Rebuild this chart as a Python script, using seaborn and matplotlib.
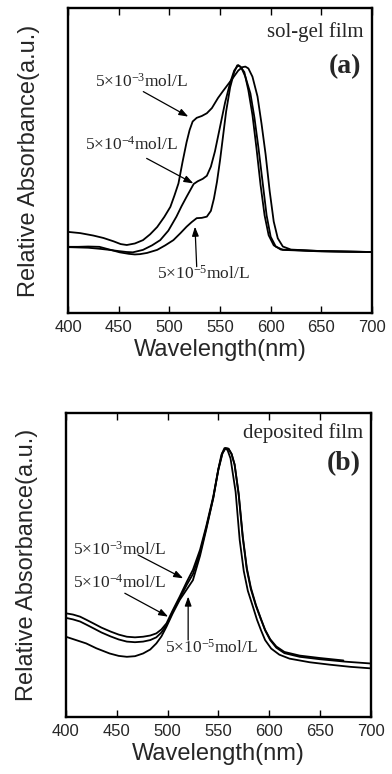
import numpy as np
import pandas as pd
import matplotlib
matplotlib.use("Agg")
import matplotlib.pyplot as plt
import seaborn as sns

# ---------------- data: panel (a) sol-gel film ----------------
a3_wl = [400, 412, 425, 435, 445, 452, 458, 466, 474, 481, 488, 495, 501, 505, 509, 513, 517, 520, 523, 527,
         532, 537, 542, 548, 553, 558, 563, 568, 572, 575, 578, 582, 587, 591, 595, 599, 603, 607, 612, 620,
         650, 700]
a3_ab = [0.266, 0.262, 0.254, 0.246, 0.235, 0.226, 0.223, 0.228, 0.239, 0.258, 0.282, 0.315, 0.348, 0.385, 0.425,
         0.495, 0.560, 0.600, 0.628, 0.640, 0.646, 0.655, 0.672, 0.705, 0.728, 0.750, 0.772, 0.795, 0.806, 0.808,
         0.802, 0.775, 0.710, 0.620, 0.520, 0.400, 0.300, 0.245, 0.218, 0.208, 0.203, 0.200]

a4_wl = [400, 410, 420, 430, 441, 450, 458, 464, 474, 483, 491, 499, 507, 512, 517, 521, 524, 528, 533, 537,
         541, 545, 550, 555, 560, 564, 568, 571, 575, 580, 584, 588, 592, 596, 600, 605, 612, 650, 700]
a4_ab = [0.216, 0.215, 0.214, 0.211, 0.207, 0.203, 0.200, 0.199, 0.207, 0.222, 0.239, 0.270, 0.316, 0.350, 0.381,
         0.405, 0.423, 0.432, 0.440, 0.450, 0.480, 0.530, 0.610, 0.690, 0.755, 0.795, 0.813, 0.805, 0.775, 0.720,
         0.640, 0.540, 0.430, 0.320, 0.250, 0.218, 0.207, 0.202, 0.200]

a5_wl = [400, 410, 420, 431, 441, 451, 460, 466, 471, 478, 488, 496, 504, 511, 517, 522, 527, 532, 537, 541,
         544, 547, 550, 553, 556, 560, 564, 567, 570, 574, 578, 582, 586, 590, 594, 598, 603, 610, 650, 700]
a5_ab = [0.217, 0.217, 0.218, 0.217, 0.208, 0.199, 0.194, 0.192, 0.193, 0.197, 0.207, 0.222, 0.239, 0.262, 0.283,
         0.298, 0.311, 0.312, 0.316, 0.335, 0.375, 0.430, 0.500, 0.580, 0.660, 0.740, 0.790, 0.812, 0.808, 0.790,
         0.730, 0.650, 0.540, 0.420, 0.320, 0.255, 0.222, 0.208, 0.203, 0.200]

# ---------------- data: panel (b) deposited film ----------------
b3_wl = [400, 407, 414, 420, 427, 435, 444, 452, 460, 468, 476, 483, 489, 494, 499, 505, 512, 519, 525, 532,
         538, 545, 550, 554, 557, 560, 563, 566, 570, 574, 578, 582, 587, 592, 596, 601, 607, 615, 630, 650, 675, 700]
b3_ab = [0.341, 0.337, 0.330, 0.320, 0.308, 0.294, 0.281, 0.271, 0.264, 0.262, 0.264, 0.268, 0.275, 0.288, 0.308,
         0.350, 0.396, 0.445, 0.484, 0.550, 0.626, 0.725, 0.815, 0.868, 0.884, 0.882, 0.865, 0.830, 0.730, 0.590,
         0.485, 0.420, 0.365, 0.320, 0.285, 0.253, 0.228, 0.210, 0.198, 0.190, 0.182, 0.176]

b4_wl = [400, 407, 414, 420, 427, 435, 444, 452, 460, 468, 476, 483, 489, 494, 499, 505, 512, 519, 525, 532,
         538, 545, 550, 554, 557, 560, 563, 566, 570, 574, 578, 582, 587, 592, 596, 601, 607, 615, 630, 650, 673]
b4_ab = [0.326, 0.321, 0.314, 0.304, 0.292, 0.278, 0.265, 0.255, 0.248, 0.246, 0.248, 0.253, 0.262, 0.278, 0.302,
         0.345, 0.390, 0.435, 0.470, 0.540, 0.620, 0.720, 0.812, 0.866, 0.884, 0.882, 0.865, 0.830, 0.735, 0.595,
         0.490, 0.425, 0.368, 0.322, 0.287, 0.256, 0.232, 0.214, 0.202, 0.194, 0.186]

b5_wl = [400, 410, 420, 430, 443, 452, 460, 468, 476, 483, 489, 494, 499, 505, 512, 519, 525, 532, 538, 545,
         550, 553, 556, 559, 562, 567, 571, 575, 579, 584, 588, 592, 596, 602, 610, 620, 640, 660, 680, 700]
b5_ab = [0.264, 0.253, 0.242, 0.226, 0.209, 0.201, 0.198, 0.200, 0.209, 0.222, 0.242, 0.265, 0.297, 0.340, 0.385,
         0.420, 0.450, 0.530, 0.615, 0.720, 0.815, 0.862, 0.884, 0.878, 0.850, 0.740, 0.582, 0.480, 0.415, 0.363,
         0.320, 0.285, 0.253, 0.225, 0.205, 0.192, 0.180, 0.172, 0.165, 0.160]

conc_labels = ["5\u00d710$^{-3}$mol/L", "5\u00d710$^{-4}$mol/L", "5\u00d710$^{-5}$mol/L"]
panel_titles = ["sol-gel film", "deposited film"]
panel_tags = ["(a)", "(b)"]
xticks = [400, 450, 500, 550, 600, 650, 700]

sns.set_style("white")
plt.rcParams["mathtext.fontset"] = "custom"
plt.rcParams["mathtext.rm"] = "Liberation Serif"
plt.rcParams["mathtext.it"] = "Liberation Serif:italic"
plt.rcParams["mathtext.bf"] = "Liberation Serif:bold"

fig = plt.figure(figsize=(3.92, 7.74), dpi=100)
ax_a = fig.add_axes([0.1735, 0.5956, 0.7755, 0.394])
ax_b = fig.add_axes([0.168, 0.0736, 0.778, 0.393])

serif = "Liberation Serif"
sans = "Liberation Sans"

def style_axes(ax):
    ax.set_xlim(400, 700)
    ax.set_ylim(0, 1)
    ax.set_xticks(xticks)
    ax.set_xticklabels([str(t) for t in xticks], fontsize=12, family=sans)
    ax.set_yticks([])
    ax.tick_params(axis="x", direction="in", top=True, bottom=True, length=5, width=1.0, pad=5, color="black")
    for s in ax.spines.values():
        s.set_visible(True)
        s.set_linewidth(1.7)
        s.set_color("black")
    ax.set_xlabel("Wavelength(nm)", fontsize=17, family=sans, labelpad=3)
    ax.set_ylabel("Relative Absorbance(a.u.)", fontsize=17, family=sans, labelpad=20)

for wl, ab in [(a3_wl, a3_ab), (a4_wl, a4_ab), (a5_wl, a5_ab)]:
    sns.lineplot(x=wl, y=ab, ax=ax_a, color="black", linewidth=1.3, estimator=None, sort=False)
for wl, ab in [(b3_wl, b3_ab), (b4_wl, b4_ab), (b5_wl, b5_ab)]:
    sns.lineplot(x=wl, y=ab, ax=ax_b, color="black", linewidth=1.3, estimator=None, sort=False)

style_axes(ax_a)
style_axes(ax_b)

arrow = dict(arrowstyle="-|>,head_length=0.55,head_width=0.2", color="black", lw=0.9, shrinkA=0, shrinkB=0)

# panel (a) annotations
ax_a.text(427, 0.758, conc_labels[0], fontsize=12.5, family=serif, ha="left", va="center")
ax_a.annotate("", xy=(518.7, 0.644), xytext=(474.3, 0.726), arrowprops=arrow)
ax_a.text(416.8, 0.551, conc_labels[1], fontsize=12.5, family=serif, ha="left", va="center")
ax_a.annotate("", xy=(523.7, 0.425), xytext=(477.6, 0.507), arrowprops=arrow)
ax_a.text(487.5, 0.130, conc_labels[2], fontsize=12.5, family=serif, ha="left", va="center")
ax_a.annotate("", xy=(525.3, 0.283), xytext=(527, 0.152), arrowprops=arrow)
ax_a.text(691.6, 0.922, panel_titles[0], fontsize=15, family=serif, ha="right", va="center")
ax_a.text(689.6, 0.808, panel_tags[0], fontsize=20, family=serif, fontweight="bold", ha="right", va="center")

# panel (b) annotations
ax_b.text(407, 0.549, conc_labels[0], fontsize=12.5, family=serif, ha="left", va="center")
ax_b.annotate("", xy=(515.4, 0.456), xytext=(471, 0.533), arrowprops=arrow)
ax_b.text(407, 0.440, conc_labels[1], fontsize=12.5, family=serif, ha="left", va="center")
ax_b.annotate("", xy=(500.6, 0.330), xytext=(458, 0.407), arrowprops=arrow)
ax_b.text(497.4, 0.227, conc_labels[2], fontsize=12.5, family=serif, ha="left", va="center")
ax_b.annotate("", xy=(520.3, 0.396), xytext=(520.3, 0.253), arrowprops=arrow)
ax_b.text(692, 0.932, panel_titles[1], fontsize=15, family=serif, ha="right", va="center")
ax_b.text(690, 0.833, panel_tags[1], fontsize=20, family=serif, fontweight="bold", ha="right", va="center")

fig.savefig("out.png", dpi=100)
